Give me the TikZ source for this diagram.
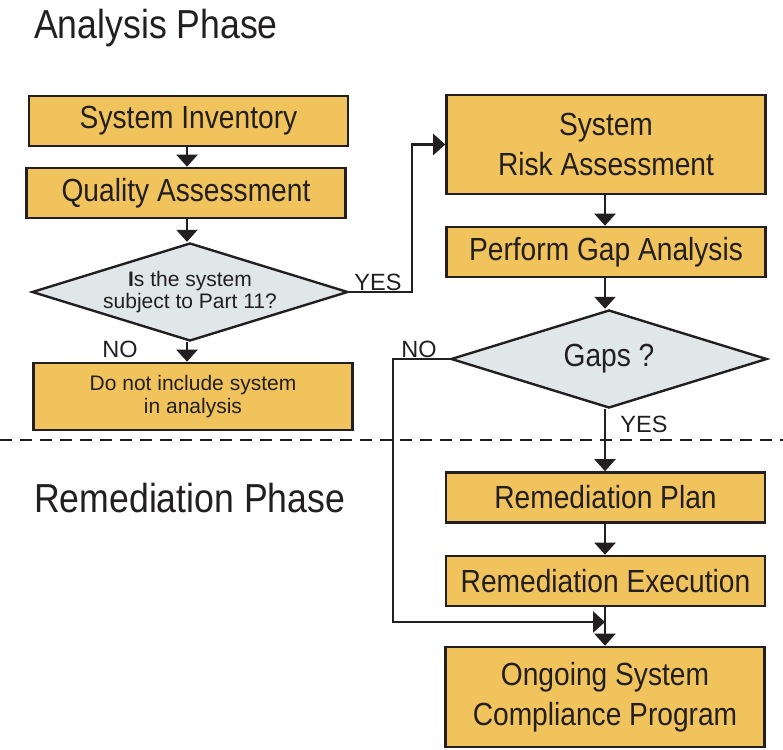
\documentclass[tikz,border=0pt]{standalone}
\usepackage{fontspec}
\setmainfont{Liberation Sans}
\newfontfamily\condfont[FakeStretch=0.88]{Liberation Sans}
\definecolor{BoxGold}{HTML}{F0C35C}
\definecolor{DecisionGrey}{HTML}{E0E7E9}
\definecolor{LineDark}{HTML}{231F20}
\usetikzlibrary{arrows.meta,shapes.geometric}

\begin{document}
\begin{tikzpicture}[x=1pt,y=-1pt,
    stepbox/.style={draw=LineDark,line width=2.6pt,fill=BoxGold,text=LineDark,
      minimum width=319pt,minimum height=50pt,inner sep=0pt,align=center},
    decision/.style={diamond,draw=LineDark,line width=2.4pt,fill=DecisionGrey,
      text=LineDark,minimum width=316pt,minimum height=98pt,inner sep=0pt,
      aspect=3.22,align=center},
    bigtext/.style={font=\condfont\fontsize{32}{40}\selectfont},
    smalltext/.style={font=\fontsize{21}{22.5}\selectfont},
    flowlabel/.style={font=\fontsize{23.5}{25}\selectfont,text=LineDark,inner sep=0pt},
    phasetitle/.style={font=\condfont\fontsize{40.5}{46}\selectfont,text=LineDark,
      inner sep=0pt,anchor=base west},
    conn/.style={draw=LineDark,line width=2.2pt,
      -{Triangle[width=21pt,length=12pt]}}]
  \useasboundingbox (0,0) rectangle (783,749);
  % phase titles and divider
  \node[phasetitle] (analysis) at (34,39) {Analysis Phase};
  \node[phasetitle] (remediation) at (34,512) {Remediation Phase};
  \coordinate (divleft) at (0,440);
  \coordinate (divright) at (783,440);
  \draw[LineDark,line width=2pt,dash pattern=on 12pt off 8pt] (divleft) -- (divright);
  % analysis steps
  \node[stepbox,bigtext] (inventory) at (188.5,121) {System Inventory};
  \node[stepbox,bigtext] (quality) at (186,193) {Quality Assessment};
  \node[decision,smalltext] (part11) at (190,292)
       {\textbf{I}s the system\\subject to Part 11?};
  \node[stepbox,smalltext,minimum height=67pt] (exclude) at (193,396.5)
       {Do not include system\\in analysis};
  \node[stepbox,bigtext,minimum height=99pt] (risk) at (606,144.5)
       {System\\Risk Assessment};
  \node[stepbox,bigtext] (gap) at (606,252) {Perform Gap Analysis};
  \node[decision,bigtext] (gaps) at (609,359) {Gaps ?};
  % remediation steps
  \node[stepbox,bigtext] (plan) at (605.5,497.5) {Remediation Plan};
  \node[stepbox,bigtext] (execution) at (605.5,581) {Remediation Execution};
  \node[stepbox,bigtext,minimum height=100pt] (ongoing) at (605,697)
       {Ongoing System\\Compliance Program};
  \coordinate (merge) at (605,622);
  % connectors
  \draw[conn] (inventory.south -| 187,0) -- (quality.north -| 187,0);
  \draw[conn] (quality.south -| 187,0) -- (part11.north -| 187,0);
  \draw[conn] (part11.south -| 187,0) -- (exclude.north -| 187,0);
  \draw[conn] (part11.east) -- ++(63,0) |- (risk.west);
  \draw[conn] (risk.south -| 605,0) -- (gap.north -| 605,0);
  \draw[conn] (gap.south -| 605,0) -- (gaps.north -| 605,0);
  \draw[conn] (gaps.south -| 605,0) -- (plan.north -| 605,0);
  \draw[conn] (plan.south -| 605,0) -- (execution.north -| 605,0);
  \draw[conn] (execution.south -| 605,0) -- (ongoing.north -| 605,0);
  \draw[conn] (gaps.west) -- ++(-57,0) |- (merge);
  % branch labels
  \node[flowlabel] (yespart) at (378,282) {YES};
  \node[flowlabel] (nopart) at (120,349) {NO};
  \node[flowlabel] (nogaps) at (419,349) {NO};
  \node[flowlabel] (yesgaps) at (644,424) {YES};
\end{tikzpicture}
\end{document}
